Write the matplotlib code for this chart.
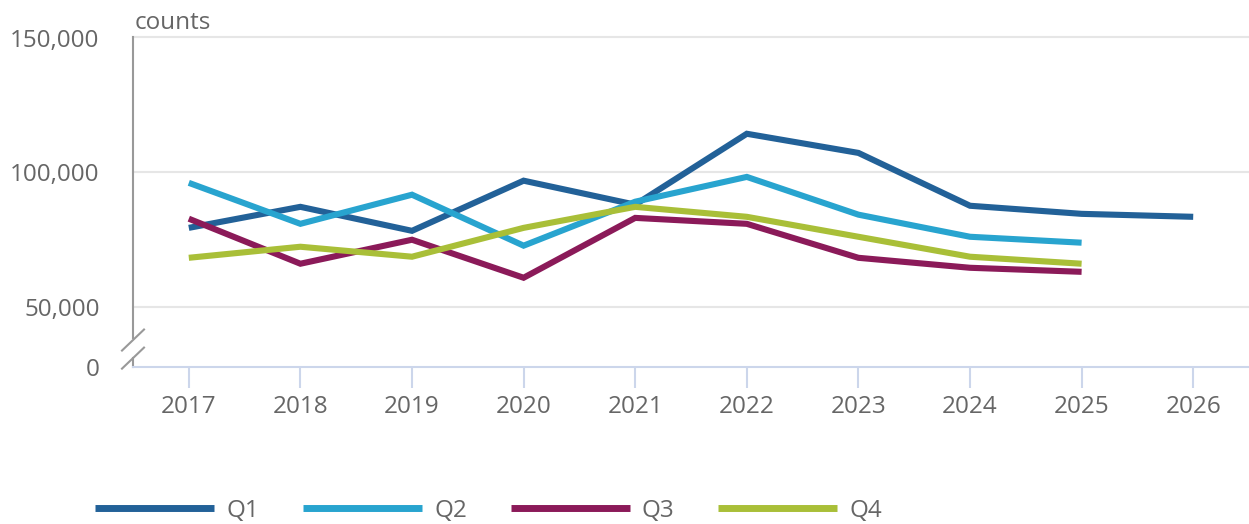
import numpy as np
import matplotlib
matplotlib.use('Agg')
import matplotlib.pyplot as plt

years = ['2017', '2018', '2019', '2020', '2021', '2022', '2023', '2024', '2025', '2026']
q1 = [79400, 87200, 78300, 96900, 88000, 114300, 107200, 87600, 84600, 83500]
q2 = [96100, 80900, 91700, 72800, 89100, 98300, 84300, 76100, 73900]
q3 = [82800, 66100, 75000, 60900, 83100, 80900, 68300, 64600, 63100]
q4 = [68300, 72400, 68700, 79400, 87200, 83500, 76100, 68700, 66100]
series_names = ['Q1', 'Q2', 'Q3', 'Q4']

COLORS = ['#226198', '#28a4cf', '#8b1a59', '#a9bf38']
TEXT = '#666666'
GRID = '#e6e6e6'
XAXIS = '#ccd6eb'
YAXIS = '#999999'

# broken axis: 0 is drawn just below the 50,000 gridline
ZERO_POS = 27800
def ymap(v):
    return v if v >= 50000 else ZERO_POS + v * (50000 - ZERO_POS) / 50000

plt.rcParams['font.family'] = ['Open Sans', 'DejaVu Sans']
FS = 17.5

W, H = 1249, 524
fig = plt.figure(figsize=(W / 100, H / 100), dpi=100)
fig.patch.set_facecolor('white')
ax = fig.add_axes([133 / W, (H - 367) / H, 1116 / W, (367 - 37.5) / H])

x = np.arange(len(years))
for vals, name, c in zip([q1, q2, q3, q4], series_names, COLORS):
    ax.plot(x[:len(vals)], [ymap(v) for v in vals], color=c, lw=4.4,
            label=name, solid_joinstyle='miter', solid_capstyle='butt', zorder=3)

ax.set_xlim(-0.5, 9.5)
ax.set_ylim(ZERO_POS, 150000)

for gv in [50000, 100000, 150000]:
    ax.axhline(gv, color=GRID, lw=1.5, zorder=1, clip_on=False)

ax.set_yticks([ZERO_POS, 50000, 100000, 150000])
ax.set_yticklabels(['0', '50,000', '100,000', '150,000'])
ax.set_xticks(x)
ax.set_xticklabels(years)
ax.tick_params(axis='y', length=0, pad=24, labelsize=FS, labelcolor=TEXT)
ax.tick_params(axis='x', length=15, width=1.5, color=XAXIS, pad=5,
               labelsize=FS, labelcolor=TEXT)

for s in ['top', 'right', 'left']:
    ax.spines[s].set_visible(False)
ax.spines['bottom'].set_color(XAXIS)
ax.spines['bottom'].set_linewidth(1.5)

# y axis line with a break
ytr = ax.get_yaxis_transform()
ax.plot([0, 0], [150000, 38700], color=YAXIS, lw=1.5, transform=ytr, clip_on=False)
ax.plot([0, 0], [31300, ZERO_POS], color=YAXIS, lw=1.5, transform=ytr, clip_on=False)
dx = 11 / 1116
ax.plot([-dx, dx], [33900, 41700], color=YAXIS, lw=1.5, transform=ytr, clip_on=False)
ax.plot([-dx, dx], [27200, 35000], color=YAXIS, lw=1.5, transform=ytr, clip_on=False)

fig.text(135 / W, 1 - 23 / H, 'counts', fontsize=FS, color=TEXT, ha='left', va='center')

leg = fig.legend(loc='center left', bbox_to_anchor=(95 / W, 1 - 511 / H), ncol=4,
                 frameon=False, fontsize=FS, handlelength=4.9, handletextpad=0.5,
                 columnspacing=1.8, borderpad=0, borderaxespad=0)
for t in leg.get_texts():
    t.set_color(TEXT)
for h in leg.get_lines():
    h.set_linewidth(5)

fig.canvas.draw()
top_lbl = ax.get_yticklabels()[-1]
top_lbl.set_y(150000 - 4 * 370)

fig.savefig('out.png', dpi=100, facecolor='white')
